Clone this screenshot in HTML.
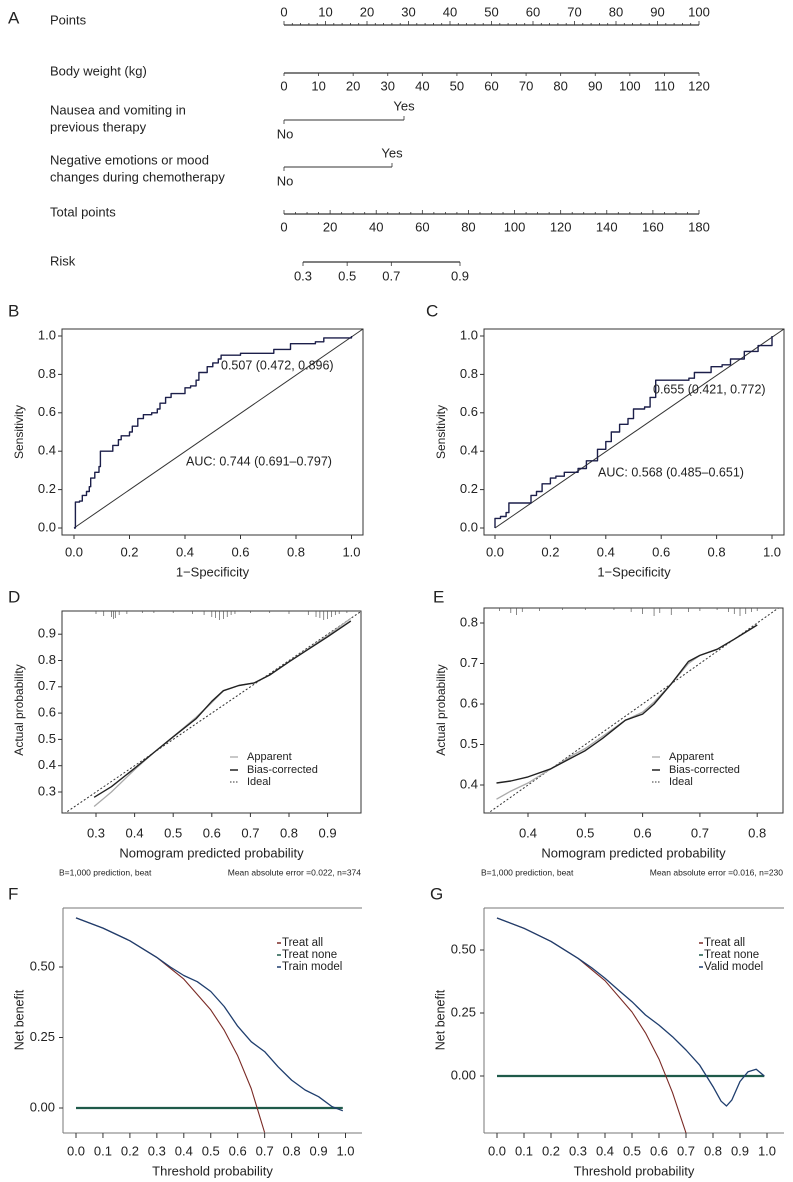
<!DOCTYPE html>
<html><head><meta charset="utf-8"><style>
html,body{margin:0;padding:0;background:#fff}
svg{display:block}
text{font-family:"Liberation Sans",Arial,sans-serif;fill:#222}
</style></head><body>
<svg id="fig" width="793" height="1182" viewBox="0 0 793 1182" xmlns="http://www.w3.org/2000/svg"></svg>
<script>
// ---------- data ----------
const rocB_fpr=[0,0.005,0.005,0.02,0.03,0.045,0.055,0.06,0.075,0.09,0.095,0.12,0.14,0.16,0.17,0.2,0.21,0.23,0.25,0.28,0.3,0.31,0.33,0.35,0.4,0.42,0.44,0.45,0.48,0.5,0.52,0.53,0.57,0.6,0.72,0.78,0.87,0.9,1];
const rocB_tpr=[0,0.02,0.135,0.14,0.17,0.19,0.215,0.26,0.29,0.32,0.4,0.4,0.43,0.46,0.48,0.5,0.53,0.57,0.59,0.6,0.62,0.65,0.68,0.7,0.73,0.74,0.77,0.81,0.84,0.86,0.88,0.9,0.9,0.91,0.93,0.96,0.97,0.99,1];
const rocC_fpr=[0,0,0.02,0.04,0.05,0.1,0.13,0.15,0.17,0.2,0.22,0.25,0.3,0.33,0.37,0.4,0.42,0.45,0.48,0.5,0.54,0.56,0.58,0.63,0.7,0.72,0.78,0.82,0.85,0.9,0.95,0.99,1,1];
const rocC_tpr=[0,0.05,0.06,0.08,0.13,0.13,0.17,0.19,0.23,0.26,0.27,0.29,0.31,0.35,0.41,0.45,0.5,0.54,0.57,0.62,0.63,0.68,0.77,0.77,0.78,0.81,0.84,0.85,0.88,0.92,0.95,0.95,0.97,1];
const calD_pred=[0.295,0.34,0.4,0.45,0.5,0.56,0.6,0.63,0.67,0.71,0.75,0.8,0.9,0.96];
const calD_bias=[0.28,0.32,0.39,0.45,0.51,0.58,0.645,0.685,0.705,0.715,0.745,0.795,0.89,0.95];
const calD_app=[0.245,0.30,0.385,0.45,0.51,0.585,0.64,0.685,0.705,0.715,0.745,0.795,0.895,0.96];
const calD_rug=[0.3,0.32,0.34,0.345,0.35,0.36,0.38,0.42,0.45,0.5,0.55,0.58,0.6,0.61,0.62,0.63,0.64,0.65,0.66,0.7,0.75,0.8,0.85,0.87,0.88,0.89,0.9,0.91,0.92,0.93,0.95];
const calD_rugLen=[3,5,6,8,7,4,3,2,2,2,3,4,6,7,9,8,6,4,3,2,2,3,4,6,7,9,8,6,4,3,2];
const calE_pred=[0.345,0.37,0.4,0.44,0.48,0.5,0.53,0.57,0.6,0.62,0.65,0.68,0.7,0.73,0.76,0.8];
const calE_bias=[0.405,0.41,0.42,0.44,0.47,0.485,0.515,0.56,0.575,0.6,0.65,0.705,0.72,0.735,0.76,0.795];
const calE_app=[0.365,0.385,0.405,0.44,0.475,0.49,0.52,0.56,0.58,0.605,0.65,0.7,0.72,0.735,0.76,0.795];
const calE_rug=[0.35,0.37,0.38,0.39,0.42,0.46,0.5,0.55,0.58,0.6,0.62,0.63,0.65,0.68,0.7,0.73,0.75,0.76,0.77,0.78,0.79,0.8];
const calE_rugLen=[3,5,7,4,3,2,2,2,4,6,8,5,7,4,3,2,4,6,8,6,4,3];
const dcaF_t=[0,0.1,0.2,0.3,0.35,0.4,0.45,0.5,0.55,0.6,0.65,0.7,0.75,0.8,0.85,0.9,0.95,0.99];
const dcaF_model=[0.674,0.638,0.593,0.534,0.50,0.47,0.448,0.413,0.36,0.29,0.235,0.20,0.146,0.099,0.064,0.04,0.005,-0.01];
const dcaF_allT=[0,0.1,0.2,0.3,0.4,0.5,0.55,0.6,0.65,0.7];
const dcaF_all=[0.674,0.638,0.593,0.534,0.457,0.348,0.276,0.185,0.069,-0.087];
const dcaG_t=[0,0.1,0.2,0.3,0.35,0.4,0.45,0.5,0.55,0.6,0.65,0.7,0.75,0.8,0.83,0.85,0.87,0.9,0.93,0.96,0.99];
const dcaG_model=[0.627,0.586,0.534,0.467,0.43,0.388,0.341,0.295,0.242,0.202,0.156,0.103,0.044,-0.042,-0.10,-0.119,-0.095,-0.022,0.017,0.027,0];
const dcaG_allT=[0,0.1,0.2,0.3,0.4,0.5,0.55,0.6,0.65,0.7];
const dcaG_all=[0.627,0.586,0.534,0.467,0.378,0.254,0.171,0.067,-0.066,-0.226];
const pointsTicks=[0,10,20,30,40,50,60,70,80,90,100];
const weightTicks=[0,10,20,30,40,50,60,70,80,90,100,110,120];
const totalTicks=[0,20,40,60,80,100,120,140,160,180];
const riskTicks=[0.3,0.5,0.7,0.9];
const riskPos=[0,10.8,21.6,38.4]; // total points for risk ticks

const NS='http://www.w3.org/2000/svg';
const svg=document.getElementById('fig');
function mk(tag,attrs,name,parent){
  const el=document.createElementNS(NS,tag);
  for(const k in attrs) el.setAttribute(k,attrs[k]);
  
  
  (parent||svg).appendChild(el);return el;
}
function txt(x,y,s,name,opt){
  opt=opt||{};
  const t=mk('text',{x:x,y:y,'font-size':opt.fs||13,'text-anchor':opt.anchor||'start','dominant-baseline':'middle'},name);
  if(opt.rot) t.setAttribute('transform','rotate(-90 '+x+' '+y+')');
  t.textContent=s;return t;
}
function ln(x1,y1,x2,y2,name,col,w,dash){
  const a={x1:x1,y1:y1,x2:x2,y2:y2,stroke:col||'#333','stroke-width':w||1};
  if(dash)a['stroke-dasharray']=dash;
  return mk('line',a,name);
}
function poly(xs,ys,sx,sy,name,col,w,dash,clip){
  const d=xs.map((v,i)=>sx(v).toFixed(1)+','+sy(ys[i]).toFixed(1)).join(' ');
  const a={points:d,fill:'none',stroke:col,'stroke-width':w||1.3,'stroke-linejoin':'round'};
  if(dash)a['stroke-dasharray']=dash;
  if(clip)a['clip-path']='url(#'+clip+')';
  return mk('polyline',a,name);
}
const defs=mk('defs',{},'defs');
function clipRect(id,x,y,w,h){const c=mk('clipPath',{id:id},'clip-'+id,defs);mk('rect',{x:x,y:y,width:w,height:h},'clip-rect',c);}

// ---------- Panel A nomogram ----------
txt(8,19,'A','panel-label-a',{fs:17});
const nx0=284,nx1=699;
const pX=v=>nx0+(nx1-nx0)*v/100;
txt(50,21,'Points','points-label',{fs:13});
ln(nx0,25,nx1,25,'points-axis','#333',1.2);
for(let v=0;v<=100;v+=2) ln(pX(v),25,pX(v),v%10===0?21:23,'points-tick','#333',0.8);
pointsTicks.forEach(v=>txt(pX(v),13,String(v),'points-tick-label',{anchor:'middle'}));
txt(50,72,'Body weight (kg)','weight-label');
const wX=v=>nx0+(nx1-nx0)*v/120;
ln(nx0,73,nx1,73,'weight-axis','#333',1.2);
weightTicks.forEach(v=>{ln(wX(v),73,wX(v),76,'weight-tick','#333',0.8);txt(wX(v),87,String(v),'weight-tick-label',{anchor:'middle'});});
txt(50,111,'Nausea and vomiting in','nausea-label-1');
txt(50,128,'previous therapy','nausea-label-2');
ln(nx0,120,404,120,'nausea-axis','#333',1);
ln(nx0,120,nx0,124,'nausea-tick','#333',0.8);ln(404,120,404,116,'nausea-tick','#333',0.8);
txt(404,107,'Yes','nausea-yes',{anchor:'middle'});txt(285,135,'No','nausea-no',{anchor:'middle'});
txt(50,161,'Negative emotions or mood','emotion-label-1');
txt(50,178,'changes during chemotherapy','emotion-label-2');
ln(nx0,167,392,167,'emotion-axis','#333',1);
ln(nx0,167,nx0,171,'emotion-tick','#333',0.8);ln(392,167,392,163,'emotion-tick','#333',0.8);
txt(392,154,'Yes','emotion-yes',{anchor:'middle'});txt(285,182,'No','emotion-no',{anchor:'middle'});
txt(50,213,'Total points','total-label');
const tX=v=>nx0+(nx1-nx0)*v/180;
ln(nx0,214,nx1,214,'total-axis','#333',1.2);
for(let v=0;v<=180;v+=5) ln(tX(v),214,tX(v),v%20===0?210:212,'total-tick','#333',0.8);
totalTicks.forEach(v=>txt(tX(v),228,String(v),'total-tick-label',{anchor:'middle'}));
txt(50,262,'Risk','risk-label');
const rX=v=>303+(460-303)*v/38.4;
ln(rX(riskPos[0]),262,rX(riskPos[3]),262,'risk-axis','#333',1.2);
riskTicks.forEach((v,i)=>{ln(rX(riskPos[i]),262,rX(riskPos[i]),266,'risk-tick','#333',0.8);txt(rX(riskPos[i]),277,v.toFixed(1),'risk-tick-label',{anchor:'middle'});});

// ---------- ROC panels ----------
function roc(letter,lx,box,x0,x1,fpr,tpr,t1,t1x,t1y,t2,t2x,t2y){
  txt(lx,312,letter,'panel-label-'+letter.toLowerCase(),{fs:17});
  const sx=v=>x0+(x1-x0)*v, sy=v=>528-192*v;
  mk('rect',{x:box[0],y:329,width:box[1]-box[0],height:206,fill:'none',stroke:'#333','stroke-width':1},'roc-frame');
  [0,0.2,0.4,0.6,0.8,1].forEach(v=>{
    ln(box[0],sy(v),box[0]-4,sy(v),'roc-y-tick');txt(box[0]-6,sy(v),v.toFixed(1),'roc-y-tick-label',{anchor:'end'});
    ln(sx(v),535,sx(v),539,'roc-x-tick');txt(sx(v),553,v.toFixed(1),'roc-x-tick-label',{anchor:'middle'});
  });
  txt((box[0]+box[1])/2,573,'1\u2212Specificity','roc-x-title',{anchor:'middle'});
  txt(box[0]-42,432,'Sensitivity','roc-y-title',{anchor:'middle',rot:true,fs:12});
  ln(sx(0),sy(0),box[1],329,'roc-diagonal','#333',1);
  let xs=[],ys=[];fpr.forEach((f,i)=>{if(i>0){xs.push(f);ys.push(tpr[i-1]);}xs.push(f);ys.push(tpr[i]);});
  poly(xs,ys,sx,sy,'roc-curve','#1c1f4a',1.4);
  txt(t1x,t1y,t1,'roc-cutoff-label',{fs:12.5});
  txt(t2x,t2y,t2,'roc-auc-label',{fs:12.5});
}
roc('B',8,[62,363],74,351.5,rocB_fpr,rocB_tpr,'0.507 (0.472, 0.896)',221,366,'AUC: 0.744 (0.691\u20130.797)',186,462);
roc('C',426,[484,784],495,772,rocC_fpr,rocC_tpr,'0.655 (0.421, 0.772)',653,390,'AUC: 0.568 (0.485\u20130.651)',598,473);

// ---------- Calibration panels ----------
function cal(letter,lx,box,sx,sy,yt,xt,lo,hi,pred,bias,app,rug,rugLen,foot2,clip){
  txt(lx,598,letter,'panel-label-'+letter.toLowerCase(),{fs:17});
  const [L,T,R,B]=box;
  clipRect(clip,L,T,R-L,B-T);
  mk('rect',{x:L,y:T,width:R-L,height:B-T,fill:'none',stroke:'#333','stroke-width':1},'cal-frame');
  yt.forEach(v=>{ln(L,sy(v),L-4,sy(v),'cal-y-tick');txt(L-6,sy(v),v.toFixed(1),'cal-y-tick-label',{anchor:'end'});});
  xt.forEach(v=>{ln(sx(v),B,sx(v),B+4,'cal-x-tick');txt(sx(v),834,v.toFixed(1),'cal-x-tick-label',{anchor:'middle'});});
  txt((L+R)/2,854,'Nomogram predicted probability','cal-x-title',{anchor:'middle'});
  txt(L-42,710,'Actual probability','cal-y-title',{anchor:'middle',rot:true,fs:12});
  rug.forEach((v,i)=>ln(sx(v),T,sx(v),T+rugLen[i],'rug-tick','#555',0.7));
  poly([lo,hi],[lo,hi],sx,sy,'ideal-line','#333',1,'2,2',clip);
  poly(pred,app,sx,sy,'apparent-line','#aaa',1.3);
  poly(pred,bias,sx,sy,'bias-corrected-line','#222',1.4);
  const lgx=sx==null?0:R-131;
  ln(lgx,757,lgx+8,757,'legend-apparent-swatch','#aaa',1.3);txt(lgx+17,757,'Apparent','legend-apparent',{fs:11});
  ln(lgx,770,lgx+8,770,'legend-bias-swatch','#222',1.5);txt(lgx+17,770,'Bias-corrected','legend-bias',{fs:11});
  ln(lgx,782,lgx+8,782,'legend-ideal-swatch','#333',1,'1.5,1.5');txt(lgx+17,782,'Ideal','legend-ideal',{fs:11});
  txt(L-3,873,'B=1,000 prediction, beat','footnote-bootstrap',{fs:8.5});
  txt(R,873,foot2,'footnote-mae',{fs:8.5,anchor:'end'});
}
cal('D',8,[62,611,361,813],v=>96+(v-0.3)*386,v=>792-(v-0.3)*263,[0.3,0.4,0.5,0.6,0.7,0.8,0.9],[0.3,0.4,0.5,0.6,0.7,0.8,0.9],0.2,1.0,calD_pred,calD_bias,calD_app,calD_rug,calD_rugLen,'Mean absolute error =0.022, n=374','clipD');
cal('E',433,[484,608,783,813],v=>528+(v-0.4)*573,v=>785-(v-0.4)*405,[0.4,0.5,0.6,0.7,0.8],[0.4,0.5,0.6,0.7,0.8],0.3,0.85,calE_pred,calE_bias,calE_app,calE_rug,calE_rugLen,'Mean absolute error =0.016, n=230','clipE');

// ---------- DCA panels ----------
function dca(letter,lx,box,x0,x1,y0,y50,t,model,allT,all,modelName,clip){
  txt(lx,895,letter,'panel-label-'+letter.toLowerCase(),{fs:17});
  const [L,T,R,B]=box;
  const sx=v=>x0+(x1-x0)*v, sy=v=>y0-(y0-y50)*v/0.5;
  clipRect(clip,L,T,R-L,B-T);
  ln(L,T,R,T,'dca-frame-top','#777',1);ln(L,T,L,B,'dca-frame-left','#777',1);ln(L,B,R,B,'dca-frame-bottom','#777',1);
  [0,0.25,0.5].forEach(v=>{ln(L,sy(v),L-4,sy(v),'dca-y-tick');txt(L-8,sy(v),v.toFixed(2),'dca-y-tick-label',{anchor:'end'});});
  for(let i=0;i<=10;i++){const v=i/10;ln(sx(v),B,sx(v),B+5,'dca-x-tick');txt(sx(v),1152,v.toFixed(1),'dca-x-tick-label',{anchor:'middle'});}
  txt((L+R)/2,1172,'Threshold probability','dca-x-title',{anchor:'middle'});
  txt(L-43,1020,'Net benefit','dca-y-title',{anchor:'middle',rot:true,fs:12.5});
  poly([0,0.99],[0,0],sx,sy,'treat-none-line','#1f5a4a',2.2);
  poly(allT,all,sx,sy,'treat-all-line','#7a2a25',1.1,null,clip);
  poly(t,model,sx,sy,'model-line','#1f3e6e',1.3);
  const lx2=R-80;
  ln(lx2-5,943,lx2-1,943,'legend-all-swatch','#7a2a25',1.5);txt(lx2,943,'Treat all','legend-treat-all',{fs:11.5});
  ln(lx2-5,955,lx2-1,955,'legend-none-swatch','#1f5a4a',1.5);txt(lx2,955,'Treat none','legend-treat-none',{fs:11.5});
  ln(lx2-5,967,lx2-1,967,'legend-model-swatch','#1f3e6e',1.5);txt(lx2,967,modelName,'legend-model',{fs:11.5});
}
dca('F',8,[63,908,362,1133],76,345.5,1108,967,dcaF_t,dcaF_model,dcaF_allT,dcaF_all,'Train model','clipF');
dca('G',430,[484,908,784,1133],497,767,1076,950,dcaG_t,dcaG_model,dcaG_allT,dcaG_all,'Valid model','clipG');
</script>
</body></html>
